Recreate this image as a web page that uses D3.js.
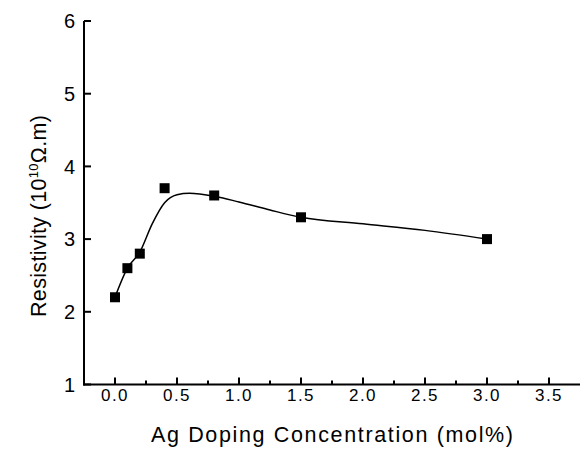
<!DOCTYPE html>
<html>
<head>
<meta charset="utf-8">
<script src="https://cdn.jsdelivr.net/npm/d3@7"></script>
<style>
body { margin: 0; background: #fff; }
text { font-family: "Liberation Sans", Arial, sans-serif; fill: #000; }
</style>
</head>
<body>
<div id="chart"></div>
<script>
// measured points
var dopingX = [0, 0.1, 0.2, 0.4, 0.8, 1.5, 3.0];
var resistivity = [2.2, 2.6, 2.8, 3.7, 3.6, 3.3, 3.0];
// fitted curve
var fitX = [0, 0.1, 0.2, 0.3, 0.4, 0.5, 0.6, 0.8, 1.0, 1.25, 1.5, 2.0, 2.5, 3.0];
var fitY = [2.2, 2.6, 2.82, 3.21, 3.50, 3.61, 3.63, 3.59, 3.51, 3.40, 3.30, 3.21, 3.12, 3.0];
var xTicks = [0, 0.5, 1.0, 1.5, 2.0, 2.5, 3.0, 3.5];
var xMinor = [-0.25, 0.25, 0.75, 1.25, 1.75, 2.25, 2.75, 3.25];
var yTicks = [1, 2, 3, 4, 5, 6];

var W = 581, H = 453;
var svg = d3.select("#chart").append("svg").attr("width", W).attr("height", H);

var x = d3.scaleLinear().domain([-0.25, 3.75]).range([84, 580]),
    y = d3.scaleLinear().domain([1, 6]).range([384.5, 21]);

// x axis
var xa = svg.append("g").attr("transform", "translate(0," + y(1) + ")");
xa.append("line").attr("x1", x(-0.25) - 1).attr("x2", x(3.75)).attr("stroke", "#000").attr("stroke-width", 2);
xa.selectAll(".maj").data(xTicks).enter().append("line")
    .attr("x1", function(d) { return x(d); }).attr("x2", function(d) { return x(d); })
    .attr("y1", 0).attr("y2", -7).attr("stroke", "#000").attr("stroke-width", 2);
xa.selectAll(".min").data(xMinor).enter().append("line")
    .attr("x1", function(d) { return x(d); }).attr("x2", function(d) { return x(d); })
    .attr("y1", 0).attr("y2", -4).attr("stroke", "#000").attr("stroke-width", 2);
xa.selectAll(".lbl").data(xTicks).enter().append("text")
    .attr("x", function(d) { return x(d); }).attr("y", 16)
    .attr("text-anchor", "middle").attr("font-size", 17).attr("letter-spacing", 1.5)
    .text(function(d) { return d3.format(".1f")(d); });

// y axis
var ya = svg.append("g").attr("transform", "translate(" + x(-0.25) + ",0)");
ya.append("line").attr("y1", y(6)).attr("y2", y(1) + 1).attr("stroke", "#000").attr("stroke-width", 2);
ya.selectAll(".maj").data(yTicks).enter().append("line")
    .attr("y1", function(d) { return y(d); }).attr("y2", function(d) { return y(d); })
    .attr("x1", 0).attr("x2", 7).attr("stroke", "#000").attr("stroke-width", 2);
ya.selectAll(".lbl").data(yTicks).enter().append("text")
    .attr("x", -9).attr("y", function(d) { return y(d); }).attr("dy", "0.36em")
    .attr("text-anchor", "end").attr("font-size", 20)
    .text(function(d) { return d; });

// fitted line
var line = d3.line()
    .curve(d3.curveMonotoneX)
    .x(function(d, i) { return x(fitX[i]); })
    .y(function(d) { return y(d); });
svg.append("path").attr("d", line(fitY))
    .attr("fill", "none").attr("stroke", "#000").attr("stroke-width", 1.5);

// markers
svg.selectAll(".pt").data(resistivity).enter().append("rect")
    .attr("x", function(d, i) { return x(dopingX[i]) - 5; })
    .attr("y", function(d) { return y(d) - 5; })
    .attr("width", 10).attr("height", 10).attr("fill", "#000");

// titles
svg.append("text").attr("x", 332).attr("y", 442).attr("text-anchor", "middle")
    .attr("font-size", 21.5).attr("textLength", 362).attr("lengthAdjust", "spacing")
    .text("Ag Doping Concentration (mol%)");

var yt = svg.append("text").attr("transform", "translate(46,216) rotate(-90)")
    .attr("text-anchor", "middle").attr("font-size", 21.5)
    .attr("textLength", 202).attr("lengthAdjust", "spacing");
yt.append("tspan").text("Resistivity (10");
yt.append("tspan").attr("dy", -8).attr("font-size", 13).text("10");
yt.append("tspan").attr("dy", 8).text("\u03A9.m)");
</script>
</body>
</html>
